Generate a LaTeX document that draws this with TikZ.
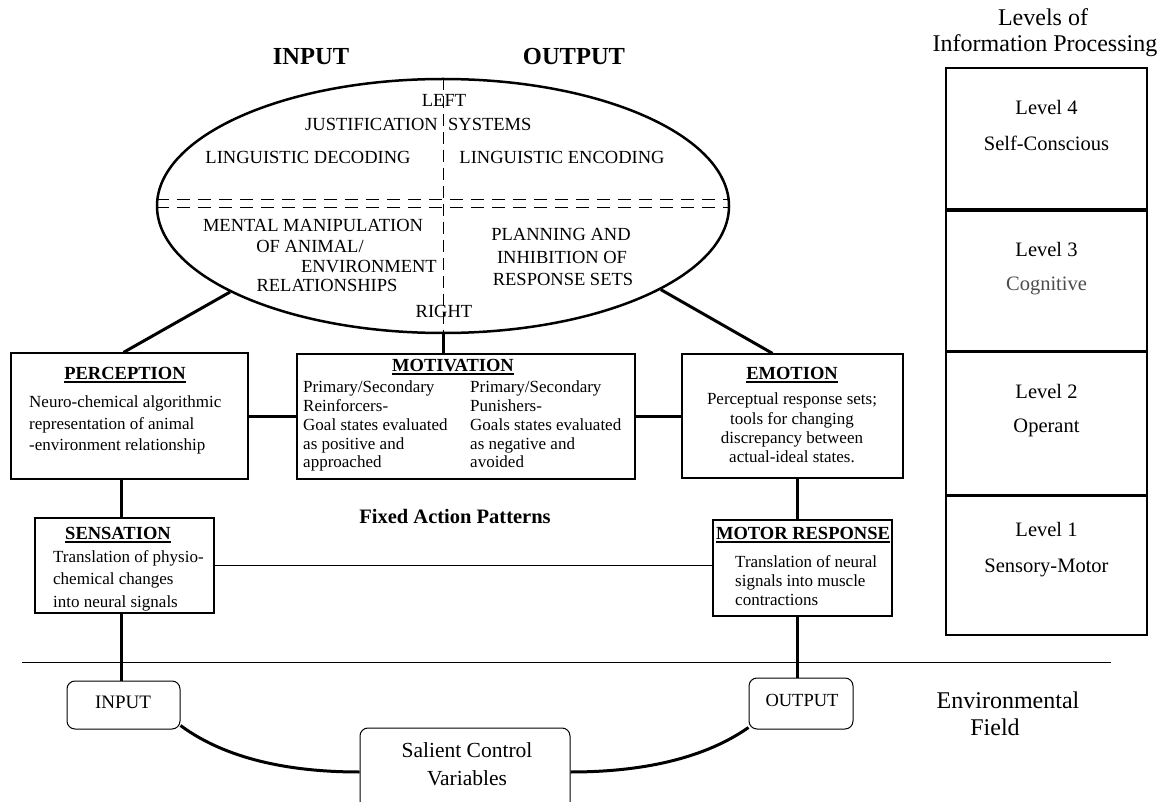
\documentclass[tikz,border=0pt]{standalone}
\usepackage{fontspec}
\setmainfont{Liberation Serif}
\usetikzlibrary{calc,shapes.geometric}

% bold title with a heavy underline
\newcommand{\heading}[1]{\setbox0=\hbox{\bfseries #1}\rlap{\rule[-3.5pt]{\wd0}{1.6pt}}\box0}
\newcommand{\fsz}[2]{\fontsize{#1}{#2}\selectfont}

\begin{document}
\begin{tikzpicture}[x=1pt,y=-1pt,
  box/.style={draw, line width=1.2pt, rectangle, inner sep=0pt},
  rbox/.style={draw, line width=1pt, rectangle, rounded corners=8pt, inner sep=0pt},
  lvl/.style={draw, line width=1.8pt, rectangle, inner sep=0pt, minimum width=201pt},
  etxt/.style={inner sep=0pt, font=\fsz{18.5}{20}},
  title/.style={inner sep=0pt, anchor=base, font=\fsz{18.5}{20}},
  body/.style={inner sep=0pt, font=\fsz{17}{19}},
  lvltxt/.style={inner sep=0pt, font=\fsz{20.5}{22}},
  link/.style={line width=3pt},
  fine/.style={line width=1pt}]

\path[use as bounding box, clip] (0,0) rectangle (1165,802);

% ---------- column headings ----------
\node[inner sep=0pt, font=\fsz{24.5}{26}\bfseries] (hin) at (311,57) {INPUT};
\node[inner sep=0pt, font=\fsz{24.5}{26}\bfseries] (hout) at (574,57) {OUTPUT};

% ---------- cortex ellipse ----------
\node[draw, ellipse, line width=2.5pt, minimum width=572pt, minimum height=254pt, inner sep=0pt] (ell) at (443,206) {};
\draw[fine, dash pattern=on 12pt off 6pt] (ell.north) -- (ell.south);
\draw[fine, dash pattern=on 13pt off 8pt] ([yshift=6pt]ell.west) -- ([yshift=6pt]ell.east);
\draw[fine, dash pattern=on 13pt off 8pt] ([yshift=-2pt]ell.west) -- ([yshift=-2pt]ell.east);

\node[etxt] (tleft) at (444,100) {LEFT};
\node[etxt, anchor=east] (tjust) at (438,124) {JUSTIFICATION};
\node[etxt, anchor=west] (tsys) at (448,124) {SYSTEMS};
\node[etxt] (tdec) at (308,157) {LINGUISTIC DECODING};
\node[etxt] (tenc) at (562,157) {LINGUISTIC ENCODING};
\node[etxt] (tm1) at (313,225) {MENTAL MANIPULATION};
\node[etxt] (tm2) at (310,246) {OF ANIMAL/};
\node[etxt, anchor=east] (tm3) at (437,267) {ENVIRONMENT};
\node[etxt] (tm4) at (327,285) {RELATIONSHIPS};
\node[etxt] (tp1) at (561,234) {PLANNING AND};
\node[etxt] (tp2) at (562,257) {INHIBITION OF};
\node[etxt] (tp3) at (563,279) {RESPONSE SETS};
\node[etxt] (tright) at (444,311) {RIGHT};

% ---------- middle row ----------
\node[box, minimum width=237pt, minimum height=126pt] (perc) at (129.5,416) {};
\node[title] (percT) at (125,379) {\heading{PERCEPTION}};
\node[body, font=\fsz{17}{21.5}, align=left, anchor=north west] (percB) at (29,396)
  {Neuro-chemical algorithmic\\representation of animal\\-environment relationship};

\node[box, minimum width=338pt, minimum height=125pt] (mot) at (466,416.5) {};
\node[title] (motT) at (453,371) {\heading{MOTIVATION}};
\node[body, font=\fsz{17}{18.75}, align=left, anchor=north west] (motL) at (303,381)
  {Primary/Secondary\\Reinforcers-\\Goal states evaluated\\as positive and\\approached};
\node[body, font=\fsz{17}{18.75}, align=left, anchor=north west] (motR) at (470,381)
  {Primary/Secondary\\Punishers-\\Goals states evaluated\\as negative and\\avoided};

\node[box, minimum width=221pt, minimum height=124pt] (emo) at (792.5,416) {};
\node[title] (emoT) at (792,379) {\heading{EMOTION}};
\node[body, font=\fsz{17}{19.3}, align=center, anchor=north] (emoB) at (792,393)
  {Perceptual response sets;\\tools for changing\\discrepancy between\\actual-ideal states.};

% ---------- lower row ----------
\node[box, minimum width=179pt, minimum height=95pt] (sens) at (124.5,565.5) {};
\node[title] (sensT) at (118,539) {\heading{SENSATION}};
\node[body, font=\fsz{17}{22.5}, align=left, anchor=north west] (sensB) at (53,550)
  {Translation of physio-\\chemical changes\\into neural signals};

\node[box, minimum width=179pt, minimum height=96pt] (motr) at (802.5,568) {};
\node[title] (motrT) at (803,539) {\heading{MOTOR RESPONSE}};
\node[body, font=\fsz{17}{19}, align=left, anchor=north west] (motrB) at (735,555)
  {Translation of neural\\signals into muscle\\contractions};

\node[inner sep=0pt, font=\fsz{20.5}{22}\bfseries] (fap) at (455,516) {Fixed Action Patterns};

% ---------- connectors ----------
\draw[link] (ell.202.6) -- ([xshift=-6pt]perc.north);
\draw[link] (ell.339.7) -- ([xshift=-20pt]emo.north);
\draw[link] (ell.south) -- (ell.south |- mot.north);
\draw[link] (perc.east) -- (perc.east -| mot.west);
\draw[link] (mot.east) -- (mot.east -| emo.west);
\draw[link] ([xshift=-8.5pt]perc.south) -- ([xshift=-8.5pt]perc.south |- sens.north);
\draw[link] ([xshift=-5.5pt]motr.north) -- ([xshift=-5.5pt]motr.north |- emo.south);
\draw[fine] (sens.east) -- (sens.east -| motr.west);

% ---------- environmental field ----------
\coordinate (hlL) at (22,662);
\coordinate (hlR) at (1111,662);
\draw[fine] (hlL) -- (hlR);

\node[rbox, minimum width=113pt, minimum height=48pt] (inp) at (123.5,705) {};
\node[inner sep=0pt, font=\fsz{19}{20}] (inpT) at (123,702) {INPUT};
\node[rbox, minimum width=104pt, minimum height=51pt] (out) at (801,703.5) {};
\node[inner sep=0pt, font=\fsz{18.5}{20}] (outT) at (802,700) {OUTPUT};
\node[rbox, minimum width=210pt, minimum height=88pt] (sal) at (465,772) {};
\node[inner sep=0pt, font=\fsz{21.5}{28}, align=center] (salT) at (467,764) {Salient Control\\Variables};

\draw[link] ([xshift=-3pt]sens.south) -- ([xshift=-3pt]sens.south |- inp.north);
\draw[link] ([xshift=-5.5pt]motr.south) -- ([xshift=-5.5pt]motr.south |- out.north);
\draw[link] ([yshift=4pt]inp.south east) .. controls ($(inp.south east)+(50,33)$) and ($(sal.west)+(-60,0)$) .. (sal.west);
\draw[link] (sal.east) .. controls ($(sal.east)+(60,0)$) and ($(out.south west)+(-50,33)$) .. ([yshift=2pt]out.south west);

\node[inner sep=0pt, font=\fsz{24}{26}] (envA) at (1008,700) {Environmental};
\node[inner sep=0pt, font=\fsz{24}{26}] (envB) at (995,727) {Field};

% ---------- levels of information processing ----------
\node[inner sep=0pt, anchor=base, font=\fsz{24}{26}] (levA) at (1043,26) {Levels of};
\node[inner sep=0pt, anchor=base, font=\fsz{24}{26}] (levB) at (1045,52) {Information Processing};

\node[lvl, minimum height=141pt, anchor=north] (l4) at (1046.5,67) {};
\node[lvl, minimum height=140pt, anchor=north] (l3) at (l4.south) {};
\node[lvl, minimum height=142pt, anchor=north] (l2) at (l3.south) {};
\node[lvl, minimum height=139pt, anchor=north] (l1) at (l2.south) {};

\node[lvltxt] (l4a) at ($(l4.north)+(0,40)$) {Level 4};
\node[lvltxt] (l4b) at ($(l4.north)+(0,76)$) {Self-Conscious};
\node[lvltxt] (l3a) at ($(l3.north)+(0,40)$) {Level 3};
\node[lvltxt, text=black!70] (l3b) at ($(l3.north)+(0,76)$) {Cognitive};
\node[lvltxt] (l2a) at ($(l2.north)+(0,40)$) {Level 2};
\node[lvltxt] (l2b) at ($(l2.north)+(0,76)$) {Operant};
\node[lvltxt] (l1a) at ($(l1.north)+(0,34)$) {Level 1};
\node[lvltxt] (l1b) at ($(l1.north)+(0,73)$) {Sensory-Motor};

\end{tikzpicture}
\end{document}
